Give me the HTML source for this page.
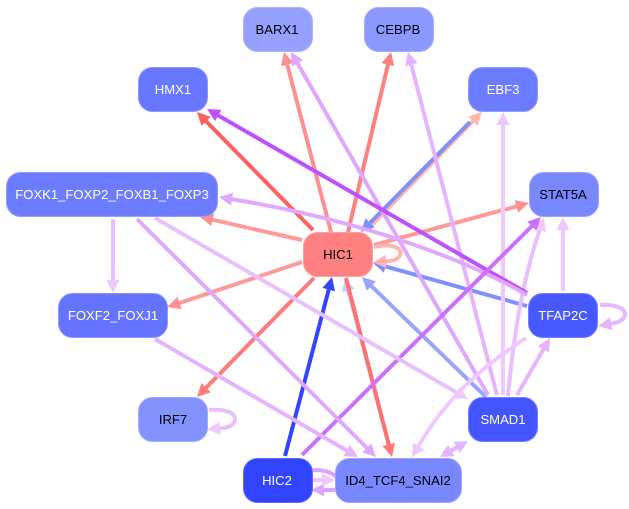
<!DOCTYPE html>
<html><head><meta charset="utf-8"><style>
html,body{margin:0;padding:0;background:#fff;width:629px;height:509px;overflow:hidden}
svg{display:block}
text{font-family:"Liberation Sans",sans-serif;font-size:13.1px;text-anchor:middle;dominant-baseline:central}
svg>path,svg>line{fill:none;stroke-width:4}
</style></head><body>
<svg width="629" height="509" viewBox="0 0 629 509" xmlns="http://www.w3.org/2000/svg">
<defs>
<marker id="a1" markerUnits="userSpaceOnUse" markerWidth="16" markerHeight="16" viewBox="-1 -8 16 16" refX="1" refY="0" orient="auto"><path d="M0,-6.5L13,0L0,6.5Z" fill="#ff9090"/></marker>
<marker id="a2" markerUnits="userSpaceOnUse" markerWidth="16" markerHeight="16" viewBox="-1 -8 16 16" refX="1" refY="0" orient="auto"><path d="M0,-6.5L13,0L0,6.5Z" fill="#ff8080"/></marker>
<marker id="a3" markerUnits="userSpaceOnUse" markerWidth="16" markerHeight="16" viewBox="-1 -8 16 16" refX="1" refY="0" orient="auto"><path d="M0,-6.5L13,0L0,6.5Z" fill="#ff6060"/></marker>
<marker id="a4" markerUnits="userSpaceOnUse" markerWidth="16" markerHeight="16" viewBox="-1 -8 16 16" refX="1" refY="0" orient="auto"><path d="M0,-6.5L13,0L0,6.5Z" fill="#ffb4b0"/></marker>
<marker id="a5" markerUnits="userSpaceOnUse" markerWidth="16" markerHeight="16" viewBox="-1 -8 16 16" refX="1" refY="0" orient="auto"><path d="M0,-6.5L13,0L0,6.5Z" fill="#ff7a7a"/></marker>
<marker id="b1" markerUnits="userSpaceOnUse" markerWidth="16" markerHeight="16" viewBox="-1 -8 16 16" refX="1" refY="0" orient="auto"><path d="M0,-6.5L13,0L0,6.5Z" fill="#3344ff"/></marker>
<marker id="b2" markerUnits="userSpaceOnUse" markerWidth="16" markerHeight="16" viewBox="-1 -8 16 16" refX="1" refY="0" orient="auto"><path d="M0,-6.5L13,0L0,6.5Z" fill="#c4ceff"/></marker>
<marker id="b3" markerUnits="userSpaceOnUse" markerWidth="16" markerHeight="16" viewBox="-1 -8 16 16" refX="1" refY="0" orient="auto"><path d="M0,-6.5L13,0L0,6.5Z" fill="#98a4ff"/></marker>
<marker id="b4" markerUnits="userSpaceOnUse" markerWidth="16" markerHeight="16" viewBox="-1 -8 16 16" refX="1" refY="0" orient="auto"><path d="M0,-6.5L13,0L0,6.5Z" fill="#8090ff"/></marker>
<marker id="p1" markerUnits="userSpaceOnUse" markerWidth="16" markerHeight="16" viewBox="-1 -8 16 16" refX="1" refY="0" orient="auto"><path d="M0,-6.5L13,0L0,6.5Z" fill="#c050ff"/></marker>
<marker id="p2" markerUnits="userSpaceOnUse" markerWidth="16" markerHeight="16" viewBox="-1 -8 16 16" refX="1" refY="0" orient="auto"><path d="M0,-6.5L13,0L0,6.5Z" fill="#cc70ff"/></marker>
<marker id="p3" markerUnits="userSpaceOnUse" markerWidth="16" markerHeight="16" viewBox="-1 -8 16 16" refX="1" refY="0" orient="auto"><path d="M0,-6.5L13,0L0,6.5Z" fill="#dfa8ff"/></marker>
<marker id="p4" markerUnits="userSpaceOnUse" markerWidth="16" markerHeight="16" viewBox="-1 -8 16 16" refX="1" refY="0" orient="auto"><path d="M0,-6.5L13,0L0,6.5Z" fill="#e6b4ff"/></marker>
<marker id="p5" markerUnits="userSpaceOnUse" markerWidth="16" markerHeight="16" viewBox="-1 -8 16 16" refX="1" refY="0" orient="auto"><path d="M0,-6.5L13,0L0,6.5Z" fill="#eec8ff"/></marker>
</defs>

<line x1="366" y1="231" x2="473.6" y2="120.5" stroke="#ffb4b0" marker-end="url(#a4)"/>
<line x1="470" y1="122" x2="369.4" y2="223.5" stroke="#8090f8" marker-end="url(#b4)"/>

<line x1="331" y1="232" x2="287" y2="63.6" stroke="#ff9090" marker-end="url(#a1)"/>
<line x1="348" y1="232" x2="388.2" y2="63.7" stroke="#ff8080" marker-end="url(#a2)"/>
<line x1="313" y1="230" x2="205.4" y2="120.6" stroke="#ff6060" marker-end="url(#a3)"/>
<line x1="302" y1="240" x2="211.7" y2="219.6" stroke="#ff9a9a" marker-end="url(#a1)"/>
<line x1="302" y1="262" x2="178.6" y2="303.3" stroke="#ff9a9a" marker-end="url(#a1)"/>
<line x1="314" y1="278" x2="205.4" y2="388.4" stroke="#ff7a7a" marker-end="url(#a5)"/>
<line x1="374" y1="245" x2="517.4" y2="206.1" stroke="#ff9a9a" marker-end="url(#a1)"/>

<line x1="390" y1="450" x2="348" y2="289.6" stroke="#c4ceff" marker-end="url(#b2)"/>
<line x1="346" y1="278" x2="389" y2="445.4" stroke="#ff7070" marker-end="url(#a5)"/>
<line x1="285" y1="456" x2="329" y2="288.6" stroke="#3344ff" marker-end="url(#b1)"/>
<line x1="486" y1="397" x2="370.6" y2="285.3" stroke="#98a4ff" marker-end="url(#b3)"/>
<path d="M527,306 L384.6,266.2" stroke="#8090ff" marker-end="url(#b4)"/>
<path d="M374,247 C392,243 403,248 400,255 C398,260 392,261 385,261.5" stroke="#ffb4b0" marker-end="url(#a4)"/>

<line x1="488" y1="395" x2="297" y2="62.4" stroke="#dfa8ff" marker-end="url(#p3)"/>
<line x1="497" y1="395" x2="411" y2="63.6" stroke="#e6b4ff" marker-end="url(#p4)"/>
<line x1="503" y1="395" x2="503" y2="124" stroke="#eec8ff" marker-end="url(#p5)"/>
<path d="M508,396 C514,330 524,275 540,229" stroke="#e8c0ff" marker-end="url(#p5)"/>
<line x1="517" y1="395" x2="544" y2="348.4" stroke="#e6b4ff" marker-end="url(#p4)"/>

<line x1="563" y1="291" x2="563" y2="229" stroke="#eec8ff" marker-end="url(#p5)"/>
<line x1="527" y1="293" x2="217.4" y2="115" stroke="#c050ff" marker-end="url(#p1)"/>
<path d="M527,295 C470,262 370,222 231,199" stroke="#e0a8ff" marker-end="url(#p3)"/>
<path d="M600,305 C615,304 626,308 625,315 C624,321 616,323 610,324" stroke="#e6b8ff" marker-end="url(#p4)"/>
<path d="M526,338 C480,368 445,400 418,447" stroke="#f0c8ff" marker-end="url(#p5)"/>

<line x1="302" y1="455" x2="532.5" y2="225.5" stroke="#cc70ff" marker-end="url(#p2)"/>

<line x1="155" y1="218" x2="457.6" y2="393" stroke="#e8c0ff" marker-end="url(#p5)"/>
<line x1="137" y1="219" x2="367.5" y2="448.5" stroke="#dfa8ff" marker-end="url(#p3)"/>
<line x1="155" y1="339" x2="347.6" y2="451" stroke="#e6b4ff" marker-end="url(#p4)"/>
<line x1="113" y1="219" x2="113" y2="281" stroke="#e8c0ff" marker-end="url(#p5)"/>

<path d="M209,410 C224,409 235,412 235,419 C235,425 228,428 219,428.5" stroke="#e8c0ff" marker-end="url(#p5)"/>

<line x1="450.4" y1="451" x2="457.6" y2="447" stroke="#e6b4ff" marker-end="url(#p4)"/>
<line x1="457.6" y1="447" x2="450.4" y2="451" stroke="#e6b4ff" marker-end="url(#p4)"/>

<path d="M313,470 C324,470 332,472 336,477" stroke="#dda0ff"/>
<line x1="335" y1="490" x2="323" y2="490" stroke="#dda0ff" marker-end="url(#p3)"/>
<line x1="313" y1="480" x2="323" y2="480" stroke="#eec8ff" marker-end="url(#p5)"/>

<g stroke-width="1">
<rect x="303.5" y="232.5" width="69" height="44" rx="14" fill="#ff8080" stroke="#ffa0a0"/>
<rect x="243.5" y="7.5" width="69" height="44" rx="14" fill="#96a0ff" stroke="#aab2ff"/>
<rect x="364.5" y="7.5" width="69" height="44" rx="14" fill="#8c98ff" stroke="#a4aeff"/>
<rect x="138.5" y="67.5" width="69" height="44" rx="14" fill="#6877ff" stroke="#8c98ff"/>
<rect x="468.5" y="67.5" width="69" height="44" rx="14" fill="#6c7cff" stroke="#909cff"/>
<rect x="6.5" y="172.5" width="211" height="44" rx="14" fill="#6c7cff" stroke="#909cff"/>
<rect x="529.5" y="172.5" width="69" height="44" rx="14" fill="#7a88ff" stroke="#98a4ff"/>
<rect x="58.5" y="293.5" width="109" height="44" rx="14" fill="#6474ff" stroke="#8c98ff"/>
<rect x="528.5" y="293.5" width="69" height="44" rx="14" fill="#4858ff" stroke="#7080ff"/>
<rect x="138.5" y="397.5" width="69" height="44" rx="14" fill="#8492ff" stroke="#a0acff"/>
<rect x="468.5" y="397.5" width="69" height="44" rx="14" fill="#4454ff" stroke="#7080ff"/>
<rect x="243.5" y="458.5" width="69" height="44" rx="14" fill="#3344ff" stroke="#5c6cff"/>
<rect x="335.5" y="458.5" width="126" height="44" rx="14" fill="#7a88ff" stroke="#98a4ff"/>
</g>
<text x="338" y="254.5" fill="#000">HIC1</text>
<text x="277" y="29.5" fill="#000">BARX1</text>
<text x="398" y="29.5" fill="#000">CEBPB</text>
<text x="173" y="89.5" fill="#fff">HMX1</text>
<text x="503" y="89.5" fill="#fff">EBF3</text>
<text x="112" y="194.5" fill="#fff">FOXK1_FOXP2_FOXB1_FOXP3</text>
<text x="563" y="194.5" fill="#000">STAT5A</text>
<text x="113" y="315.5" fill="#fff">FOXF2_FOXJ1</text>
<text x="563" y="315.5" fill="#fff">TFAP2C</text>
<text x="173" y="419.5" fill="#000">IRF7</text>
<text x="503" y="419.5" fill="#fff">SMAD1</text>
<text x="277" y="480.5" fill="#fff">HIC2</text>
<text x="398" y="480.5" fill="#000">ID4_TCF4_SNAI2</text>
</svg>
</body></html>
